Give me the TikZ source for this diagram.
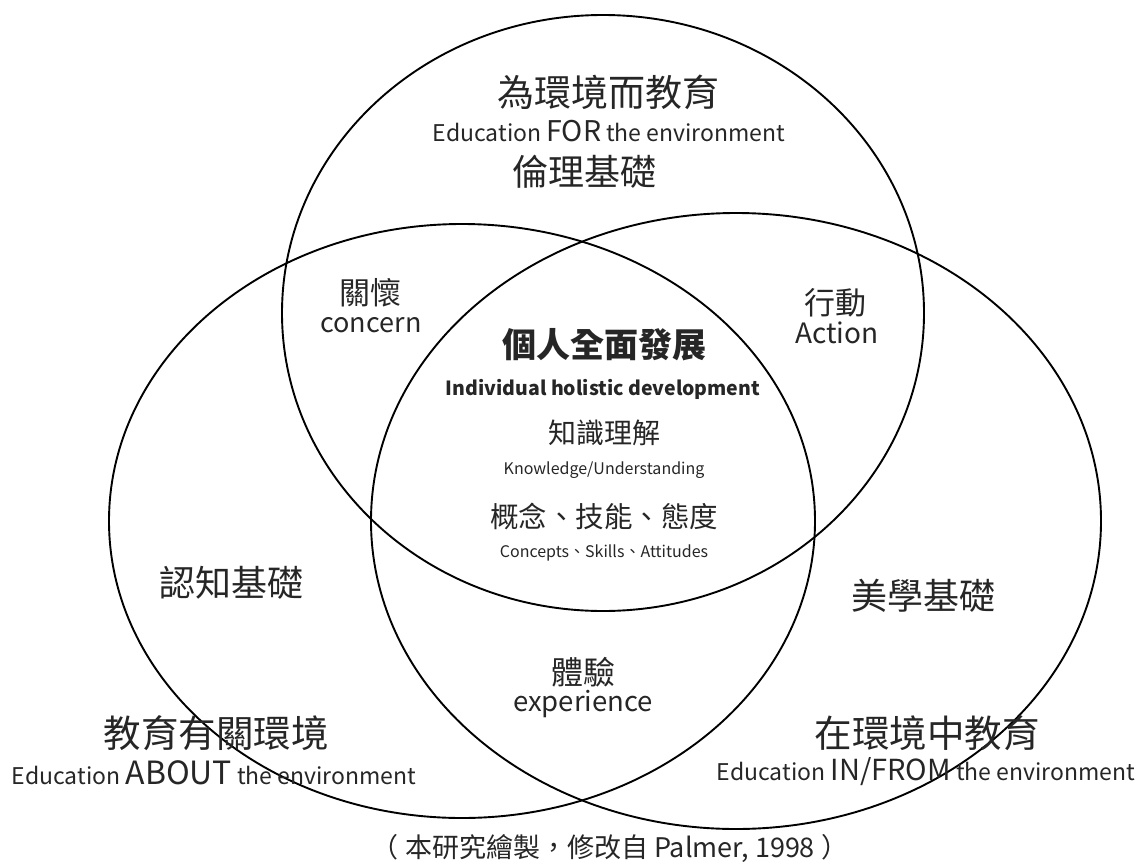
\documentclass[tikz,border=0pt]{standalone}
\usepackage{fontspec}
\setmainfont{Noto Sans CJK TC}
\newcommand{\fs}[1]{\fontsize{#1}{#1}\selectfont}
\begin{document}
\begin{tikzpicture}[x=1pt,y=-1pt,
  ring/.style={line width=1.9pt,black},
  lbl/.style={inner sep=0pt,anchor=center,text=black!85}]
\useasboundingbox (0,0) rectangle (1139,867);
\draw[ring] (603,313) ellipse [x radius=321pt, y radius=298pt];
\draw[ring] (462,521) ellipse [x radius=353pt, y radius=297pt];
\draw[ring] (736,521) ellipse [x radius=365pt, y radius=308pt];
% top
\node[lbl] (t1) at (608,92) {\fs{37}為環境而教育};
\node[lbl] (t2) at (609,131) {\fs{23}Education {\fs{28.5}FOR} the environment};
\node[lbl] (t3) at (584,172) {\fs{36}倫理基礎};
% concern
\node[lbl] (c1) at (370,293) {\fs{31}關懷};
\node[lbl] (c2) at (371,325) {\fs{27}concern};
% action
\node[lbl] (a1) at (835,303) {\fs{31}行動};
\node[lbl] (a2) at (837,333) {\fs{28}Action};
% center
\node[lbl] (m1) at (604,345) {\fs{34}\bfseries 個人全面發展};
\node[lbl] (m2) at (603,389) {\fs{19.5}\bfseries Individual holistic development};
\node[lbl] (m3) at (604,433) {\fs{28}知識理解};
\node[lbl] (m4) at (604,470) {\fs{16}Knowledge/Understanding};
\node[lbl] (m5) at (604,516) {\fs{28.5}概念、技能、態度};
\node[lbl] (m6) at (604,553) {\fs{16}Concepts、Skills、Attitudes};
% left / right
\node[lbl] (l1) at (231,583) {\fs{36}認知基礎};
\node[lbl] (r1) at (923,596) {\fs{36}美學基礎};
% experience
\node[lbl] (e1) at (583,672) {\fs{32}體驗};
\node[lbl] (e2) at (583,704) {\fs{27.5}experience};
% about
\node[lbl] (b1) at (216,733) {\fs{37.5}教育有關環境};
\node[lbl] (b2) at (214,773) {\fs{23}Education {\fs{32}ABOUT} the environment};
% in/from
\node[lbl] (f1) at (927,733) {\fs{37.5}在環境中教育};
\node[lbl] (f2) at (926,772) {\fs{23}Education {\fs{29}IN/FROM} the environment};
% caption
\node[lbl] (cap) at (610,848) {\fs{27}（ 本研究繪製，修改自 Palmer, 1998 ）};
\end{tikzpicture}
\end{document}
